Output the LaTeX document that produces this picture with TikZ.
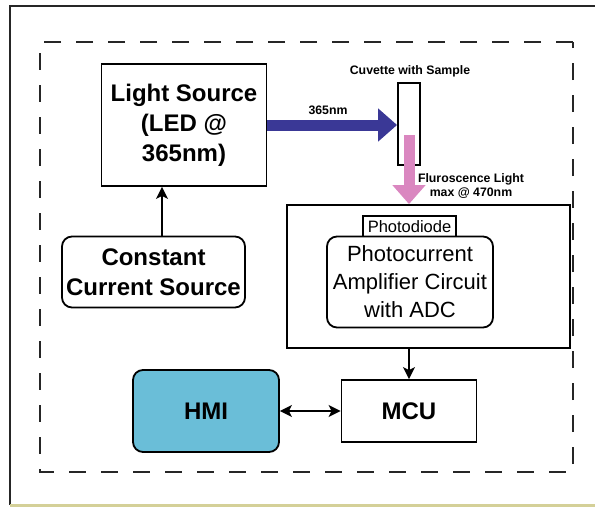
\documentclass[tikz,border=0pt]{standalone}
\usepackage{fontspec}
\setmainfont{Liberation Sans}
\usepackage{tikz}
\usetikzlibrary{positioning, arrows.meta, calc}

\definecolor{uvblue}{RGB}{58,56,150}
\definecolor{flpink}{RGB}{218,135,192}
\definecolor{hmicyan}{RGB}{106,190,216}
\definecolor{framekhaki}{RGB}{212,208,152}

\begin{document}
\begin{tikzpicture}[x=1pt, y=-1pt,
  box/.style={rectangle, draw, line width=1.8pt, align=center, inner sep=2pt},
  rbox/.style={box, rounded corners=10pt},
  big/.style={font=\bfseries\fontsize{24}{30}\selectfont},
  plain/.style={font=\fontsize{22}{28}\selectfont},
  small/.style={font=\bfseries\fontsize{12.3}{14}\selectfont, align=center},
  arr/.style={line width=1.8pt, -{Stealth[length=12pt, width=12pt, inset=3pt]}},
  darr/.style={line width=1.8pt, {Stealth[length=12pt, width=12pt, inset=3pt]}-{Stealth[length=12pt, width=12pt, inset=3pt]}},
  beam/.style={line width=11pt, -{Triangle[length=19pt, width=32pt]}}
]
  \useasboundingbox (0,0) rectangle (595,507);

  % Outer frame
  \draw[line width=2.5pt, black!85] (10,505) -- (10,6) -- (595,6);
  \draw[line width=3pt, framekhaki] (10,505) -- (595,505);

  % Dashed enclosure
  \draw[line width=2.7pt, black!85, dash pattern=on 17pt off 15pt] (573,42) -- (40,42) -- (40,472) -- (573,472) -- cycle;

  % Blocks
  \node[box, big, minimum width=165pt, minimum height=122pt] (light) at (184,125) {Light Source\\(LED @\\365nm)};
  \node[rbox, big, minimum width=183pt, minimum height=71pt] (ccs) at (153.5,272) {Constant\\Current Source};
  \node[box, minimum width=22pt, minimum height=82pt] (cuvette) at (409,124) {};
  \node[small] (cuvlabel) at (410,71) {Cuvette with Sample};
  \node[box, minimum width=283pt, minimum height=143pt] (detector) at (428.5,276.5) {};
  \node[box, font=\fontsize{16.5}{18}\selectfont, minimum width=93pt, minimum height=22pt, inner sep=0pt] (photodiode) at (409.5,227) {Photodiode};
  \node[rbox, plain, fill=white, minimum width=166pt, minimum height=91pt] (amp) at (410,282) {Photocurrent\\Amplifier Circuit\\with ADC};
  \node[box, big, minimum width=135pt, minimum height=62pt] (mcu) at (409,411) {MCU};
  \node[rbox, big, fill=hmicyan, minimum width=146pt, minimum height=82pt] (hmi) at (206,411) {HMI};

  % Light path
  \draw[beam, uvblue] (light.east) -- (light.east -| cuvette.west);
  \node[small] (uvlabel) at (328,110) {365nm};
  \coordinate (fl) at (409,135);
  \draw[beam, flpink] (fl) -- (fl |- detector.north);
  \node[small] (fllabel) at (471,186) {Fluroscence Light\\max @ 470nm};

  % Connections
  \coordinate (feed) at (162,0);
  \draw[arr] (ccs.north -| feed) -- (light.south -| feed);
  \draw[arr] (detector.south -| mcu) -- (mcu.north);
  \draw[darr] (hmi.east) -- (mcu.west);
\end{tikzpicture}
\end{document}
